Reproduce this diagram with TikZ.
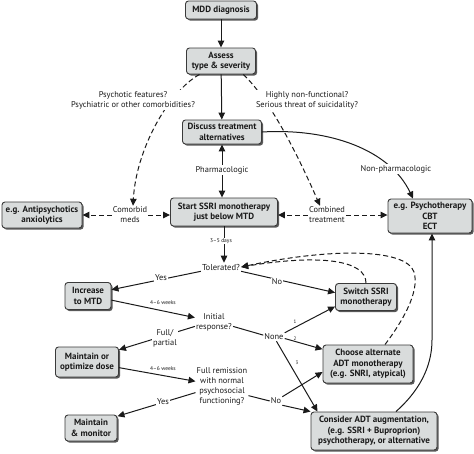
\documentclass[tikz,border=0pt]{standalone}
\usepackage{fontspec}
\setmainfont{PT Sans}
\usetikzlibrary{arrows.meta,shadows,calc}
\definecolor{boxgray}{HTML}{D9DCDC}
\definecolor{edgegray}{HTML}{3A3A3A}
\definecolor{ink}{HTML}{1A1A1A}
\begin{document}
\begin{tikzpicture}[x=1pt,y=-1pt,
  box/.style={draw=edgegray, line width=0.9pt, rounded corners=3pt, fill=boxgray,
    align=center, text=ink, font=\fontsize{9}{10.5}\selectfont\bfseries, inner sep=1pt,
    drop shadow={shadow xshift=1.6pt, shadow yshift=-1.6pt, fill=black!65, opacity=1}},
  lbl/.style={font=\fontsize{8.4}{10}\selectfont, align=center, inner sep=1pt, text=ink},
  wlbl/.style={lbl, fill=white},
  sm/.style={font=\fontsize{5.5}{6}\selectfont, inner sep=1pt, text=ink},
  con/.style={line width=1pt, draw=ink},
  arr/.style={con, -{Triangle[length=7pt,width=6.5pt]}},
  darr/.style={arr, dash pattern=on 5pt off 3pt},
]
\useasboundingbox (0,0) rectangle (474,453);

% boxes
\node[box, minimum width=71, minimum height=18] (mdd) at (221,10) {MDD diagnosis};
\node[box, minimum width=69, minimum height=26] (assess) at (221,61) {Assess\\type \& severity};
\node[box, minimum width=79, minimum height=24] (discuss) at (222,132) {Discuss treatment\\alternatives};
\node[box, minimum width=80, minimum height=26] (anti) at (42,215) {e.g. Antipsychotics\\anxiolytics};
\node[box, minimum width=107, minimum height=28] (ssri) at (224,212) {Start SSRI monotherapy\\just below MTD};
\node[box, minimum width=84, minimum height=34] (psy) at (430,216) {e.g. Psychotherapy\\CBT\\ECT};
\node[box, minimum width=46, minimum height=27] (inc) at (88,296) {Increase\\to MTD};
\node[box, minimum width=61, minimum height=27] (switch) at (366,297) {Switch SSRI\\monotherapy};
\node[box, minimum width=63, minimum height=30] (maint) at (87,362) {Maintain or\\optimize dose};
\node[box, minimum width=90, minimum height=38] (choose) at (368,364) {Choose alternate\\ADT monotherapy\\(e.g. SNRI, atypical)};
\node[box, minimum width=52, minimum height=26] (mon) at (91,428) {Maintain\\\& monitor};
\node[box, minimum width=126, minimum height=38] (cons) at (374,431) {Consider ADT augmentation,\\(e.g. SSRI + Buproprion)\\psychotherapy, or alternative};

% decision texts and junction labels
\node[lbl, font=\fontsize{8.6}{10}\selectfont] (tol) at (221,267) {Tolerated?};
\node[lbl] (init) at (214,322) {Initial\\response?};
\node[lbl] (full) at (222,386) {Full remission\\with normal\\psychosocial\\functioning?};
\node[lbl] (pharm) at (222,170) {Pharmacologic};
\node[lbl] (comorb) at (130,215) {Comorbid\\meds};
\node[lbl] (comb) at (327,215) {Combined\\treatment};
\node[lbl] (none) at (274,337) {None};
\node[lbl] (no2) at (276,401) {No};

% main vertical flow
\draw[arr] (mdd) -- (assess);
\draw[arr] (assess) -- (discuss);
\draw[arr] (pharm.north) -- (pharm.north |- discuss.south);
\draw[arr] (pharm.south) -- (pharm.south |- ssri.north);

% dashed from assess
\draw[darr] (assess.212) .. controls (168,92) and (136,150) .. ($(comorb.north)+(3,0)$);
\draw[darr] (assess.-31) .. controls (272,102) and (300,160) .. ($(comb.north)+(-7,0)$);
\node[wlbl] (psq) at (133,100) {Psychotic features?\\Psychiatric or other comorbidities?};
\node[wlbl] (hnf) at (307,100) {Highly non-functional?\\Serious threat of suicidality?};

% side arrows
\draw[darr] (comorb.west) -- (comorb.west -| anti.east);
\draw[darr] (comorb.east) -- (comorb.east -| ssri.west);
\draw[darr] (comb.west) -- (comb.west -| ssri.east);
\draw[darr] (comb.east) -- (comb.east -| psy.west);

% non-pharmacologic
\draw[arr] (discuss.east) .. controls (330,128) and (390,150) .. ($(psy.north)+(-17,0)$);
\node[wlbl] (nonph) at (396,169) {Non-pharmacologic};

% ssri -> tolerated
\draw[arr] (ssri.south) -- (ssri.south |- tol.north);
\node[sm, fill=white] (days) at (221,241) {3–5 days};

% tolerated branches
\draw[arr] (tol.south west) -- (inc.15);
\node[wlbl] (yes1) at (161,278) {Yes};
\draw[arr] (tol.south east) -- (switch.172);
\node[wlbl] (no1) at (277,282) {No};

% dashed feedback
\draw[darr] (switch.north) .. controls (366,260) and (320,254) .. (tol.east);
\draw[darr] ($(choose.north)+(17,0)$) .. controls (402,322) and (420,292) .. (414,272)
   .. controls (406,248) and (330,248) .. (tol.east);

% increase -> initial
\draw[arr] (inc.-10) -- (init.167);
\node[sm] (w1) at (163,303) {4–6 weeks};

% initial -> maintain
\draw[arr] (init.193) -- (maint.21);
\node[wlbl] (fp) at (165,338) {Full/\\partial};

% initial -> none -> options
\draw[con] (init.-13) -- (none.170);
\draw[arr] (none.north east) -- (switch.197);
\draw[arr] (none.-8) -- (choose.162);
\draw[arr] (none.-60) -- (cons.161);
\node[sm, font=\fontsize{5}{6}\selectfont] (n1) at (295,322) {1};
\node[sm, font=\fontsize{5}{6}\selectfont] (n2) at (295,339) {2};
\node[sm, font=\fontsize{5}{6}\selectfont] (n3) at (297,363) {3};

% maintain -> full remission
\draw[arr] (maint.-10) -- (full.170);
\node[sm] (w2) at (163,369) {4–6 weeks};

% full remission branches
\draw[arr] (full.194) -- (mon.24);
\node[wlbl] (yes2) at (163,402) {Yes};
\draw[con] (full.-20) -- (no2.west);
\draw[arr] (no2.north east) -- (choose.190);
\draw[arr] (no2.south east) -- (cons.north west);

% consider -> psychotherapy
\draw[arr] ($(cons.north)+(22,0)$) .. controls (418,392) and (432,368) .. (432,340)
   -- ($(psy.south)+(2,0)$);
\end{tikzpicture}
\end{document}
